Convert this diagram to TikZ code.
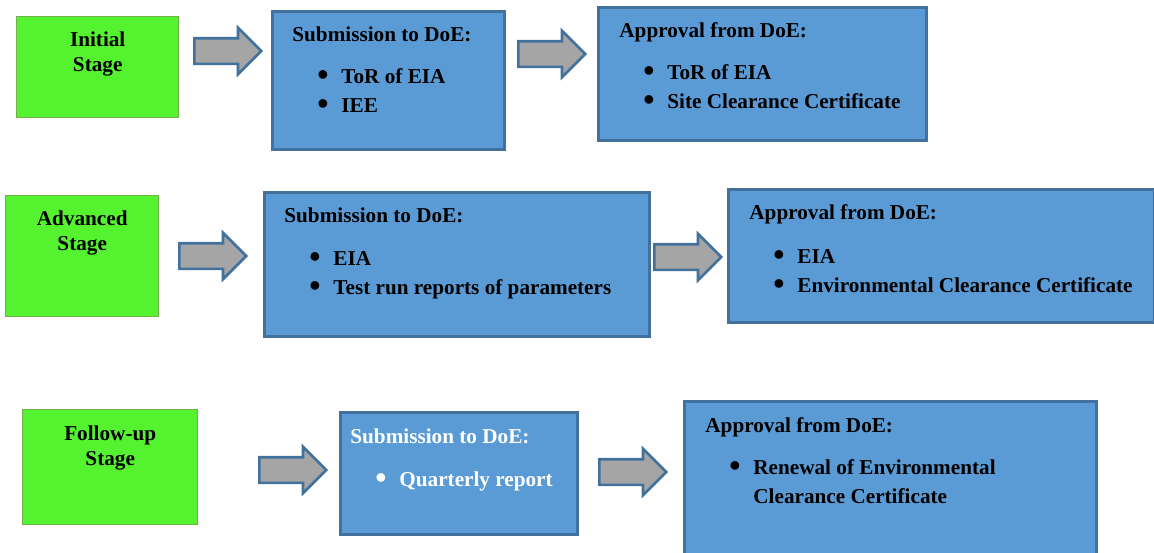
\documentclass[tikz,border=0pt]{standalone}
\usepackage{fontspec}
\setmainfont{Liberation Serif}
\usetikzlibrary{shapes.arrows}
\definecolor{stagegreen}{RGB}{85,242,48}
\definecolor{stageedge}{RGB}{115,175,75}
\definecolor{doeblue}{RGB}{91,155,213}
\definecolor{doeedge}{RGB}{65,113,156}
\definecolor{arrowgray}{RGB}{165,165,165}
\newcommand{\itemdot}{\raisebox{-1.3pt}{\fontsize{16}{16}\selectfont\textbullet}}

\begin{document}
\begin{tikzpicture}[x = 0.5pt, y = -0.5pt,
    stage/.style = {draw = stageedge, fill = stagegreen, line width = 0.7pt, inner sep = 0pt},
    doe/.style = {draw = doeedge, fill = doeblue, line width = 1.3pt, inner sep = 0pt},
    flow/.style = {single arrow, draw = doeedge, fill = arrowgray, line width = 1.3pt,
        inner xsep = 0pt, inner ysep = 5.75pt, text height = 0pt, text depth = 0pt,
        single arrow head extend = 5.25pt, minimum height = 33.5pt},
    stagetxt/.style = {inner sep = 0pt, font = \fontsize{10.6}{12.5}\selectfont\bfseries},
    doetxt/.style = {inner sep = 0pt, font = \fontsize{10.6}{14.5}\selectfont\bfseries}]
\useasboundingbox (0,0) rectangle (1154,552);

% boxes
\node[stage, anchor = north west, minimum width = 81pt, minimum height = 50.5pt] (init) at (16,16) {};
\node[doe, anchor = north west, minimum width = 116pt, minimum height = 69pt] (subA) at (271,10) {};
\node[doe, anchor = north west, minimum width = 164pt, minimum height = 66.5pt] (appA) at (597,6) {};
\node[stage, anchor = north west, minimum width = 76.5pt, minimum height = 60.5pt] (adv) at (5,195) {};
\node[doe, anchor = north west, minimum width = 192.5pt, minimum height = 72pt] (subB) at (263,191) {};
\node[doe, anchor = north west, minimum width = 213pt, minimum height = 66.5pt] (appB) at (727,188) {};
\node[stage, anchor = north west, minimum width = 87.5pt, minimum height = 57.5pt] (follow) at (22,409) {};
\node[doe, anchor = north west, minimum width = 118.5pt, minimum height = 61pt] (subC) at (339,411) {};
\node[doe, anchor = north west, minimum width = 206pt, minimum height = 90pt] (appC) at (683,400) {};

% arrows
\node[flow, anchor = tail] (arA1) at (193,51) {};
\node[flow, anchor = tail] (arA2) at (517,54) {};
\node[flow, anchor = tail] (arB1) at (178,256) {};
\node[flow, anchor = tail] (arB2) at (653,257) {};
\node[flow, anchor = tail] (arC1) at (258,470) {};
\node[flow, anchor = tail] (arC2) at (598,472) {};

% stage texts
\node[stagetxt, anchor = base] (initT) at ([shift = {(0,30)}]init.north)
    {\begin{tabular}[t]{@{}c@{}}Initial\\Stage\end{tabular}};
\node[stagetxt, anchor = base] (advT) at ([shift = {(0,30)}]adv.north)
    {\begin{tabular}[t]{@{}c@{}}Advanced\\Stage\end{tabular}};
\node[stagetxt, anchor = base] (followT) at ([shift = {(0,31)}]follow.north)
    {\begin{tabular}[t]{@{}c@{}}Follow-up\\Stage\end{tabular}};

% DoE texts
\node[doetxt, anchor = base west] (subAH) at ([shift = {(21,31)}]subA.north west) {Submission to DoE:};
\node[doetxt, anchor = base west] (subAL) at ([shift = {(46,73)}]subA.north west)
    {\begin{tabular}[t]{@{}p{12pt}@{}l@{}}\itemdot & ToR of EIA\\ \itemdot & IEE\end{tabular}};
\node[doetxt, anchor = base west] (appAH) at ([shift = {(22,31)}]appA.north west) {Approval from DoE:};
\node[doetxt, anchor = base west] (appAL) at ([shift = {(46,73)}]appA.north west)
    {\begin{tabular}[t]{@{}p{12pt}@{}l@{}}\itemdot & ToR of EIA\\ \itemdot & Site Clearance Certificate\end{tabular}};

\node[doetxt, anchor = base west] (subBH) at ([shift = {(21,31)}]subB.north west) {Submission to DoE:};
\node[doetxt, anchor = base west] (subBL) at ([shift = {(46,74)}]subB.north west)
    {\begin{tabular}[t]{@{}p{12pt}@{}l@{}}\itemdot & EIA\\ \itemdot & Test run reports of parameters\end{tabular}};
\node[doetxt, anchor = base west] (appBH) at ([shift = {(22,31)}]appB.north west) {Approval from DoE:};
\node[doetxt, anchor = base west] (appBL) at ([shift = {(46,75)}]appB.north west)
    {\begin{tabular}[t]{@{}p{12pt}@{}l@{}}\itemdot & EIA\\ \itemdot & Environmental Clearance Certificate\end{tabular}};

\node[doetxt, anchor = base west, text = white] (subCH) at ([shift = {(11,32)}]subC.north west) {Submission to DoE:};
\node[doetxt, anchor = base west, text = white] (subCL) at ([shift = {(36,75)}]subC.north west)
    {\begin{tabular}[t]{@{}p{12pt}@{}l@{}}\itemdot & Quarterly report\end{tabular}};
\node[doetxt, anchor = base west] (appCH) at ([shift = {(22,32)}]appC.north west) {Approval from DoE:};
\node[doetxt, anchor = base west] (appCL) at ([shift = {(46,74)}]appC.north west)
    {\begin{tabular}[t]{@{}p{12pt}@{}l@{}}\itemdot & Renewal of Environmental\\ & Clearance Certificate\end{tabular}};

\end{tikzpicture}
\end{document}
